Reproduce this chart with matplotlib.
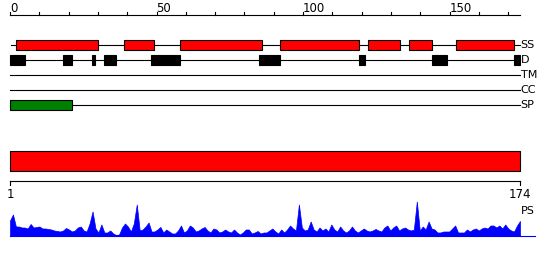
import matplotlib
matplotlib.use("Agg")
import matplotlib.pyplot as plt
from matplotlib.patches import Rectangle

# feature tracks (residue ranges, top ruler scale 0..174)
seq_len = 174
ss_segments = [(2, 30), (39, 49), (58, 86), (92, 119), (122, 133), (136, 144), (152, 172)]
d_segments = [(0, 5), (18, 21), (28, 29), (32, 36), (48, 58), (85, 92), (119, 121), (144, 149), (172, 174)]
tm_segments = []
cc_segments = []
sp_segments = [(0, 21)]
track_labels = ["SS", "D", "TM", "CC", "SP"]
top_ticks = [0, 50, 100, 150]

# PS profile, one value per residue (1..174)
ps_values = [
    15, 21, 9, 9, 8, 8, 7, 11.5, 8, 8.5,
    9, 7, 7, 6.5, 6, 5, 4.5, 4, 5, 7.5,
    6, 4, 5, 8, 9, 5, 4, 12, 24, 7,
    3, 11, 3, 3, 5, 2, 0.5, 1, 8, 12,
    9, 4, 12, 31, 5, 6, 9, 13, 4, 4,
    6, 8.5, 3, 6, 4, 2, 2, 5, 10, 3,
    5, 10, 8, 4, 5, 7, 8.5, 5, 3, 7,
    6, 3, 4, 6, 4, 3, 6, 3, 1, 3,
    6, 6, 2, 3, 4.5, 2, 3, 3, 5, 7,
    4, 2, 6, 3, 6, 10, 7, 5, 31, 8,
    5, 6, 14, 6, 4, 8, 5, 7, 4, 11,
    6, 4, 9, 5, 3, 5, 9, 5, 3, 5,
    7, 5, 4, 5, 6.5, 5, 4, 8, 10, 5,
    8, 10, 5, 7, 8, 6, 5, 6, 34, 5,
    9, 6, 14, 7, 6, 3, 3, 4, 4, 4,
    7, 10, 3, 3, 3, 6, 4, 6, 7, 5,
    7, 8, 7, 10, 10, 8, 10, 7, 11, 7,
    5, 4, 10, 14.5,
]

W, H = 550, 260
fig = plt.figure(figsize=(W / 100, H / 100), dpi=100)
x0, x1 = 10, 520

# top part: ruler 0..174
ax = fig.add_axes([x0 / W, 0, (x1 - x0) / W, 1])
ax.set_xlim(0, seq_len)
ax.set_ylim(H, 0)
ax.axis("off")

lw = 0.8
ax.plot([0, seq_len], [15, 15], color="black", lw=lw, clip_on=False)
for t in range(0, seq_len + 1, 10):
    ax.plot([t, t], [15, 11.5], color="black", lw=lw, clip_on=False)
for t in top_ticks:
    ax.text(t, 8, str(t), ha="left", va="center", fontsize=8.5, color="black")

tracks = [ss_segments, d_segments, tm_segments, cc_segments, sp_segments]
colors = ["red", "black", "black", "black", "#008000"]
ys = [45, 60, 75, 90, 105]
for segs, col, y, lab in zip(tracks, colors, ys, track_labels):
    start = 0.5 if lab == "SS" else 0
    ax.plot([start, seq_len], [y, y], color="black", lw=lw, zorder=1, clip_on=False)
    for a, b in segs:
        ax.add_patch(Rectangle((a, y - 5), b - a, 10, facecolor=col,
                               edgecolor="black", lw=lw, zorder=2, clip_on=False))
    ax.text(seq_len + 0.2, y, lab, ha="left", va="center", fontsize=8, color="black")

# bottom part: ruler 1..174
ax2 = fig.add_axes([x0 / W, 0, (x1 - x0) / W, 1])
ax2.set_xlim(1, seq_len)
ax2.set_ylim(H, 0)
ax2.axis("off")

ax2.add_patch(Rectangle((1, 150.5), seq_len - 1, 20, facecolor="red",
                        edgecolor="black", lw=lw, clip_on=False))
ax2.plot([1, seq_len], [181, 181], color="black", lw=lw, clip_on=False)
for t in [1, seq_len]:
    ax2.plot([t, t], [181, 185], color="black", lw=lw, clip_on=False)
    ax2.text(t, 195, str(t), ha="center", va="center", fontsize=8.5, color="black")
ax2.text(seq_len + 0.3, 211, "PS", ha="left", va="center", fontsize=8, color="black")

base = 235.5
res = list(range(1, seq_len + 1))
xs = [1] + res + [seq_len]
tops = [base] + [base - v for v in ps_values] + [base]
ax2.fill_between(xs, base, tops, color="blue", lw=0.5, clip_on=False)
ax2.plot([1, seq_len + 5], [base, base], color="blue", lw=lw, clip_on=False)

fig.savefig("out.png", dpi=100)
